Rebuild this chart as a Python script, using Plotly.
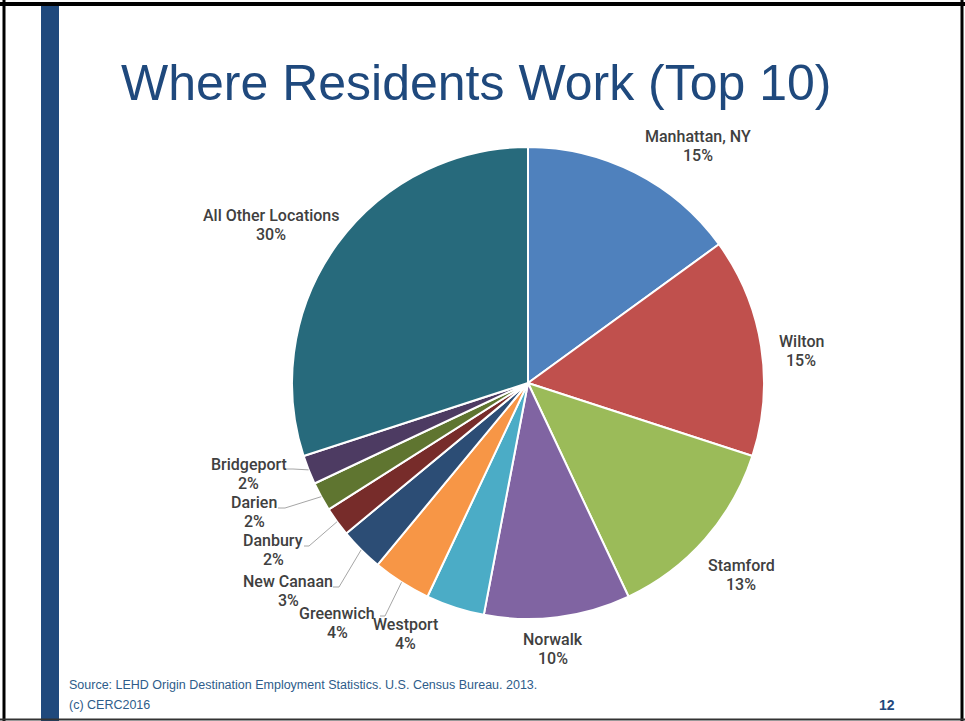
import math
import plotly.graph_objects as go

# ---- data -------------------------------------------------------------
places = ["Manhattan, NY", "Wilton", "Stamford", "Norwalk", "Westport",
          "Greenwich", "New Canaan", "Danbury", "Darien", "Bridgeport",
          "All Other Locations"]
shares = [15, 15, 13, 10, 4, 4, 3, 2, 2, 2, 30]
colors = ["#4F81BD", "#C0504D", "#9BBB59", "#8064A2", "#4BACC6",
          "#F79646", "#2C4D75", "#772C2A", "#5F7530", "#4D3B62",
          "#276A7C"]

title_text = "Where Residents Work (Top 10)"
source_text = "Source: LEHD Origin Destination Employment Statistics. U.S. Census Bureau. 2013."
copyright_text = "(c) CERC2016"
page_number = "12"

# ---- page geometry (pixels) ------------------------------------------
W, H = 965, 721
CX, CY, R = 528, 383, 236          # pie centre and radius


def px(x):
    return x / W


def py(y):
    return 1 - y / H


# label centres (pixels)
label_pos = {
    "Manhattan, NY": (698, 146),
    "Wilton": (801, 351),
    "Stamford": (741, 575),
    "Norwalk": (553, 649),
    "Westport": (405, 634),
    "Greenwich": (337, 623),
    "New Canaan": (288, 591),
    "Danbury": (273, 550),
    "Darien": (254, 512),
    "Bridgeport": (249, 474),
    "All Other Locations": (271, 225),
}
# leader lines: (start x, elbow x, y) next to the first text line
leaders = {
    "Greenwich": (380, 385, 616),
    "New Canaan": (333, 339, 587),
    "Danbury": (304, 309, 546),
    "Darien": (278, 285, 508),
    "Bridgeport": (287, 293, 469),
}
LINE_GAP = 19  # distance between the name line and the percentage line

label_font = dict(family="Roboto, Liberation Sans, Arial, sans-serif",
                  size=16, color="#404040", weight=500)

fig = go.Figure()
fig.add_trace(go.Pie(
    labels=places,
    values=shares,
    sort=False,
    direction="clockwise",
    rotation=0,
    textinfo="none",
    hoverinfo="label+percent",
    marker=dict(colors=colors, line=dict(color="white", width=2)),
    domain=dict(x=[px(CX - R), px(CX + R)], y=[py(CY + R), py(CY - R)]),
    showlegend=False,
))

shapes = []
annotations = []

# slide frame and left accent bar
shapes.append(dict(type="rect", xref="paper", yref="paper",
                   x0=px(41), x1=px(59), y0=py(5), y1=py(721),
                   fillcolor="#1F497D", line=dict(width=0), layer="above"))
frame = [((0, 4), (965, 4), 4, "#000000"),
         ((4, 0), (4, 721), 3, "#000000"),
         ((962, 0), (962, 721), 3, "#000000"),
         ((0, 719.5), (965, 719.5), 2, "#333333")]
for (x0, y0), (x1, y1), w, c in frame:
    shapes.append(dict(type="line", xref="paper", yref="paper",
                       x0=px(x0), y0=py(y0), x1=px(x1), y1=py(y1),
                       line=dict(color=c, width=w), layer="above"))

# slice labels and leader lines, angles derived from the shares
total = sum(shares)
cum = 0.0
for name, val in zip(places, shares):
    mid = (cum + val / 2) / total * 2 * math.pi
    cum += val
    lx, ly = label_pos[name]
    for txt, yy in ((name, ly - LINE_GAP / 2), (f"{val}%", ly + LINE_GAP / 2)):
        annotations.append(dict(
            xref="paper", yref="paper", x=px(lx), y=py(yy),
            xanchor="center", yanchor="middle", showarrow=False,
            text=txt, font=label_font,
        ))
    if name in leaders:
        sx, ex, yy = leaders[name]
        edge_x = CX + R * math.sin(mid)
        edge_y = CY - R * math.cos(mid)
        path = (f"M {px(sx)},{py(yy)} L {px(ex)},{py(yy)} "
                f"L {px(edge_x)},{py(edge_y)}")
        shapes.append(dict(type="path", xref="paper", yref="paper",
                           path=path, line=dict(color="#A6A6A6", width=1)))

# title and footer
annotations.append(dict(
    xref="paper", yref="paper", x=px(119), y=py(83),
    xanchor="left", yanchor="middle", showarrow=False, text=title_text,
    font=dict(family="Liberation Sans, Arial, sans-serif", size=50,
              color="#1F497D"),
))
foot_font = dict(family="Liberation Sans, Arial, sans-serif",
                 size=12.5, color="#2E5C8A")
annotations.append(dict(
    xref="paper", yref="paper", x=px(67), y=py(685),
    xanchor="left", yanchor="middle", showarrow=False, text=source_text,
    font=foot_font,
))
annotations.append(dict(
    xref="paper", yref="paper", x=px(67), y=py(705),
    xanchor="left", yanchor="middle", showarrow=False, text=copyright_text,
    font=foot_font,
))
annotations.append(dict(
    xref="paper", yref="paper", x=px(887), y=py(705),
    xanchor="center", yanchor="middle", showarrow=False,
    text=f"<b>{page_number}</b>",
    font=dict(family="Liberation Sans, Arial, sans-serif",
              size=14, color="#1F497D"),
))

fig.update_layout(
    width=W, height=H,
    margin=dict(l=0, r=0, t=0, b=0),
    paper_bgcolor="white",
    plot_bgcolor="white",
    shapes=shapes,
    annotations=annotations,
)

fig.write_html("out.html")
